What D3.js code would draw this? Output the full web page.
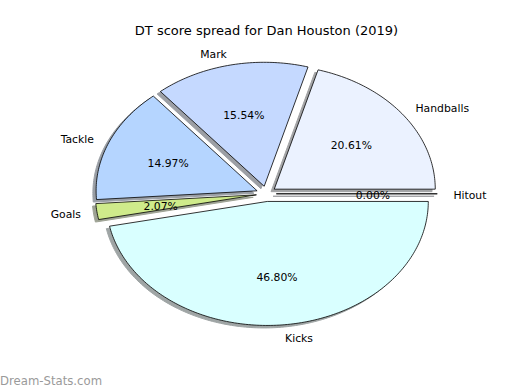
<!DOCTYPE html>
<html>
<head>
<meta charset="utf-8">
<script src="https://cdn.jsdelivr.net/npm/d3@7"></script>
<style>
  html, body { margin: 0; padding: 0; background: #fff; }
  svg { display: block; font-family: "DejaVu Sans", sans-serif; }
</style>
</head>
<body>
<svg id="chart" width="520" height="390"></svg>
<script>
const title = "DT score spread for Dan Houston (2019)";
const categories = ["Hitout", "Handballs", "Mark", "Tackle", "Goals", "Kicks"];
const values = [0.00, 20.61, 15.54, 14.97, 2.07, 46.80];
const pctLabels = ["0.00%", "20.61%", "15.54%", "14.97%", "2.07%", "46.80%"];
const colors = ["#E8EEFF", "#EBF2FF", "#C5D9FF", "#B5D5FF", "#CFEB8B", "#D9FFFF"];
const explode = [0.062, 0.062, 0.062, 0.062, 0.062, 0.062];
const watermark = "Dream-Stats.com";

const svg = d3.select("#chart");
const cx = 266.3, cy = 193.8, rx = 161, ry = 124;
const textDy = 1.6;

const x = d3.scaleLinear().domain([-1, 1]).range([cx - rx, cx + rx]);
const y = d3.scaleLinear().domain([-1, 1]).range([cy + ry, cy - ry]);

const pie = d3.pie().sort(null).value(d => d).startAngle(0).endAngle(2 * Math.PI);
const arcs = pie(values);

const line = d3.line().x(d => x(d[0])).y(d => y(d[1]));

function wedgePoints(a, i, dx, dy) {
  const mid = (a.startAngle + a.endAngle) / 2;
  const ox = explode[i] * Math.cos(mid) + dx;
  const oy = explode[i] * Math.sin(mid) + dy;
  const pts = [[ox, oy]];
  const span = a.endAngle - a.startAngle;
  const n = Math.max(1, Math.ceil(span / (Math.PI / 180)));
  for (let k = 0; k <= n; k++) {
    const t = a.startAngle + span * k / n;
    pts.push([ox + Math.cos(t), oy + Math.sin(t)]);
  }
  return pts;
}

function darker(c) {
  const r = d3.rgb(c);
  return d3.rgb(r.r * 0.3, r.g * 0.3, r.b * 0.3).toString();
}

// shadows
svg.append("g").selectAll("path").data(arcs).join("path")
  .attr("d", (a, i) => line(wedgePoints(a, i, -0.02, -0.02)) + "Z")
  .attr("fill", (a, i) => darker(colors[i]))
  .attr("stroke", (a, i) => darker(colors[i]))
  .attr("stroke-width", 1)
  .attr("opacity", 0.5);

// wedges
svg.append("g").selectAll("path").data(arcs).join("path")
  .attr("d", (a, i) => line(wedgePoints(a, i, 0, 0)) + "Z")
  .attr("fill", (a, i) => colors[i])
  .attr("stroke", "#000")
  .attr("stroke-width", 0.8)
  .attr("stroke-linejoin", "miter");

// category labels
svg.append("g").selectAll("text").data(arcs).join("text")
  .each(function (a, i) {
    const mid = (a.startAngle + a.endAngle) / 2;
    const lx = (explode[i] + 1.1) * Math.cos(mid);
    const ly = (explode[i] + 1.1) * Math.sin(mid);
    d3.select(this)
      .attr("x", x(lx))
      .attr("y", y(ly) + textDy)
      .attr("text-anchor", lx > 0 ? "start" : "end")
      .attr("dominant-baseline", "central")
      .text(categories[i]);
  })
  .attr("font-size", 10.8)
  .attr("fill", "#000");

// percentage labels
svg.append("g").selectAll("text").data(arcs).join("text")
  .each(function (a, i) {
    const mid = (a.startAngle + a.endAngle) / 2;
    const lx = (explode[i] + 0.6) * Math.cos(mid);
    const ly = (explode[i] + 0.6) * Math.sin(mid);
    d3.select(this)
      .attr("x", x(lx))
      .attr("y", y(ly) + textDy)
      .attr("text-anchor", "middle")
      .attr("dominant-baseline", "central")
      .text(pctLabels[i]);
  })
  .attr("font-size", 10.8)
  .attr("fill", "#000");

// title
svg.append("text")
  .attr("x", 266.5)
  .attr("y", 30.5)
  .attr("text-anchor", "middle")
  .attr("dominant-baseline", "central")
  .attr("font-size", 13)
  .text(title);

// watermark
svg.append("text")
  .attr("x", 0)
  .attr("y", 385)
  .attr("font-size", 11.7)
  .attr("fill", "#9a9a9a")
  .text(watermark);
</script>
</body>
</html>
